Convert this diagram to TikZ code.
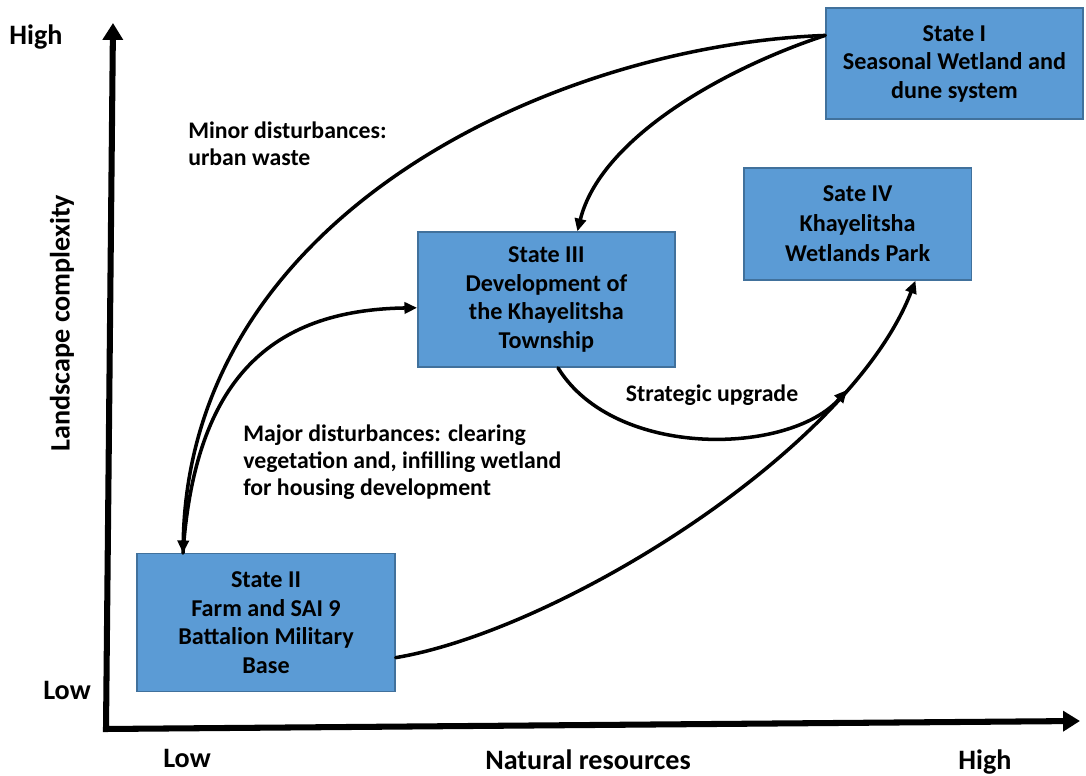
\documentclass[tikz,border=0pt]{standalone}
\usepackage{fontspec}
\setmainfont{Carlito}
\usetikzlibrary{calc}
\usetikzlibrary{arrows.meta}

\definecolor{boxblue}{HTML}{5B9BD5}
\definecolor{boxedge}{HTML}{41719C}

\tikzset{
  state/.style={draw=boxedge, fill=boxblue, line width=1pt,
    align=center, inner sep=0pt,
    font=\fontsize{17.2}{20.3}\selectfont\bfseries},
  note/.style={align=left, anchor=west, inner sep=0pt,
    font=\fontsize{16.9}{19.2}\selectfont\bfseries},
  axislabel/.style={inner sep=0pt, font=\fontsize{20}{22}\selectfont\bfseries},
}

\begin{document}
\begin{tikzpicture}[>={Triangle[length=9pt, width=8pt]}]
  \useasboundingbox (0, 0) rectangle (27.15, 19.4);

  % the four states
  \node[state, minimum width=6.43cm, minimum height=2.78cm] (s1)
    at (23.86, 17.81) {State I\\Seasonal Wetland and\\dune system};
  \node[state, minimum width=6.45cm, minimum height=3.45cm] (s2)
    at (6.65, 3.83) {State II\\Farm and SAI 9\\Battalion Military\\Base};
  \node[state, minimum width=6.43cm, minimum height=3.38cm] (s3)
    at (13.66, 11.91) {State III\\Development of\\the Khayelitsha\\Township};
  \node[state, minimum width=5.68cm, minimum height=2.8cm,
        font=\fontsize{17.2}{21.3}\selectfont\bfseries] (s4)
    at (21.44, 13.8) {Sate IV\\Khayelitsha\\Wetlands Park};

  % axes
  \coordinate (o) at (2.65, 1.175);
  \coordinate (ytop) at (2.825, 18.825);
  \coordinate (xend) at (27.0, 1.375);
  \draw[line width=4.3pt, line join=miter,
        {Triangle[length=12pt, width=14pt]}-{Triangle[length=12pt, width=14pt]}]
    (ytop) -- (o) -- (xend);

  \node[axislabel] (yhigh) at (0.9, 18.475) {High};
  \node[axislabel] (ylow) at (1.675, 2.15) {Low};
  \node[axislabel] (xlow) at (4.675, 0.45) {Low};
  \node[axislabel] (xhigh) at (24.625, 0.35) {High};
  \node[axislabel] (xname) at (14.7, 0.4) {Natural resources};
  \node[axislabel, rotate=90] (yname) at (1.55, 11.325) {Landscape complexity};

  % connector ends on the boxes
  \coordinate (s1out) at ($(s1.north west)!0.25!(s1.south west)$);
  \coordinate (s2top) at ($(s2.north west)!0.18!(s2.north east)$);
  \coordinate (s2out) at ($(s2.north east)!0.75!(s2.south east)$);
  \coordinate (s3top) at ($(s3.north west)!0.62!(s3.north east)$);
  \coordinate (s3in) at ($(s3.north west)!0.56!(s3.south west)$);
  \coordinate (s3out) at ($(s3.south west)!0.545!(s3.south east)$);
  \coordinate (s4in) at ($(s4.south west)!0.753!(s4.south east)$);
  \coordinate (upgrade) at (21.175, 9.65);

  \begin{scope}[line width=2.5pt, line cap=round]
    \draw[->] (s1out) .. controls (14.0, 18.275) and (4.75, 14.15) .. (s2top);
    \draw[->] (s1out) .. controls (18.0, 17.65) and (15.0, 15.9) .. (s3top);
    \draw[->] (s2top) .. controls (4.875, 9.9) and (6.75, 11.65) .. (s3in);
    \draw[->] (s3out) .. controls (15.375, 7.9) and (19.75, 8.025) .. (upgrade);
    \draw[->] (s2out) .. controls (14.0, 3.65) and (21.25, 8.15) .. (s4in);
  \end{scope}

  \node[note] (minor) at (4.7, 15.81) {Minor disturbances:\\urban waste};
  \node[note] (major) at (6.075, 7.85)
    {Major disturbances: clearing\\vegetation and, infilling wetland\\for housing development};
  \node[note, anchor=center] (strat) at (17.8, 9.525) {Strategic upgrade};
\end{tikzpicture}
\end{document}
